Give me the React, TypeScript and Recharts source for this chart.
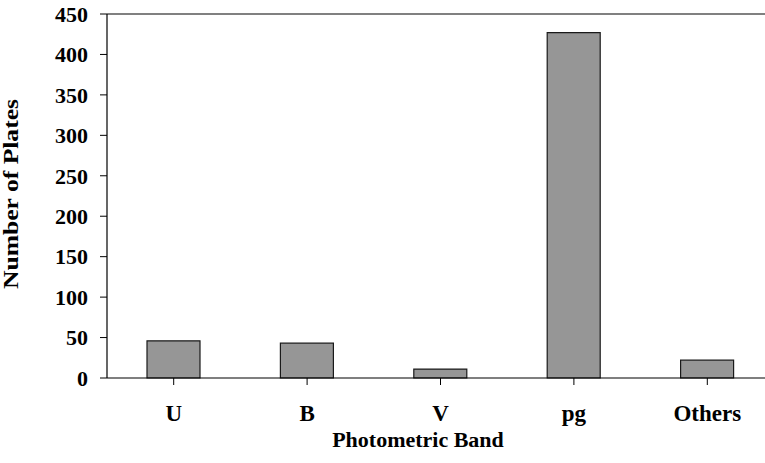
import { BarChart, Bar, XAxis, YAxis, ReferenceLine, Label } from 'recharts'

const bands = ['U', 'B', 'V', 'pg', 'Others']
const plates = [46, 43, 11, 427, 22]
const yTicks = [0, 50, 100, 150, 200, 250, 300, 350, 400, 450]

const data = bands.map((band, i) => ({ band, plates: plates[i] }))

const font = '"Liberation Serif", "Times New Roman", serif'

export default function App() {
  return (
    <div style={{ position: 'absolute', left: 0, top: 0, width: 765, height: 463, overflow: 'hidden', background: '#fff' }}>
      <BarChart
        width={790}
        height={463}
        data={data}
        margin={{ top: 14, right: 16, bottom: 0, left: 0 }}
      >
        <ReferenceLine y={450} stroke="#808080" strokeWidth={2} ifOverflow="extendDomain" />
        <XAxis
          dataKey="band"
          height={85}
          tickSize={7}
          tickMargin={20}
          axisLine={{ stroke: '#000', strokeWidth: 1.2 }}
          tickLine={{ stroke: '#000' }}
          tick={{ fill: '#000', fontFamily: font, fontWeight: 'bold', fontSize: 23 }}
          interval={0}
        >
          <Label
            content={({ viewBox }: any) => (
              <text
                x={viewBox.x + 311}
                y={viewBox.y + 69}
                textAnchor="middle"
                fontFamily={font}
                fontWeight="bold"
                fontSize={22}
                fill="#000"
              >
                Photometric Band
              </text>
            )}
          />
        </XAxis>
        <YAxis
          width={107}
          domain={[0, 450]}
          ticks={yTicks}
          tickSize={7}
          tickMargin={12}
          axisLine={{ stroke: '#000', strokeWidth: 1.2 }}
          tickLine={{ stroke: '#000' }}
          tick={{ fill: '#000', fontFamily: font, fontWeight: 'bold', fontSize: 22 }}
        >
          <Label
            content={({ viewBox }: any) => {
              const cx = 11
              const cy = viewBox.y + viewBox.height / 2 - 2
              return (
                <text
                  x={cx}
                  y={cy}
                  transform={`rotate(-90 ${cx} ${cy})`}
                  textAnchor="middle"
                  dominantBaseline="central"
                  fontFamily={font}
                  fontWeight="bold"
                  fontSize={21}
                  textLength={190}
                  lengthAdjust="spacingAndGlyphs"
                  fill="#000"
                >
                  Number of Plates
                </text>
              )
            }}
          />
        </YAxis>
        <Bar
          dataKey="plates"
          fill="#969696"
          stroke="#1a1a1a"
          strokeWidth={1.2}
          barSize={53}
          isAnimationActive={false}
        />
      </BarChart>
    </div>
  )
}
